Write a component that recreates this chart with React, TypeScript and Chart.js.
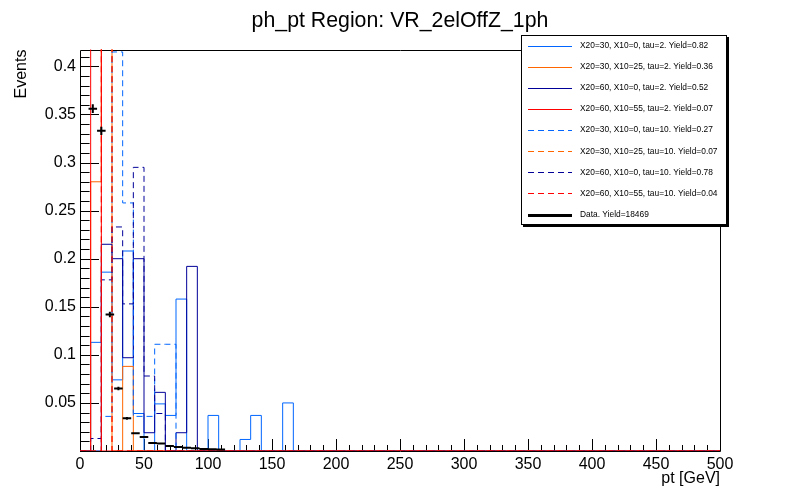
"use client"

import { useEffect, useRef } from "react"
import { Chart, registerables } from "chart.js"
import type { Plugin } from "chart.js"

Chart.register(...registerables)

const PT_MIN = 0
const PT_MAX = 500
const MC_BINS = 60 // signal samples, 8.33 GeV bins
const DATA_BINS = 75 // data, 6.67 GeV bins
const Y_MAX = 0.4175
const Y_LABELS = [0.05, 0.1, 0.15, 0.2, 0.25, 0.3, 0.35, 0.4]

// bin contents from the first bin on, every bin after the list is empty
const x30_0_tau2 = [0, 0.113, 0.186, 0.074, 0.208, 0.039, 0, 0.049, 0.037, 0.158, 0, 0, 0.037, 0, 0, 0.012, 0.037, 0, 0, 0.05]
const x30_25_tau2 = [0, 0.28, 0.632, 0, 0.088]
const x60_0_tau2 = [0, 0, 0.215, 0.2, 0.097, 0.2, 0.019, 0.061, 0, 0.019, 0.192]
const x60_55_tau2 = [0, 1.0]
const x30_0_tau10 = [0, 0, 0.036, 0.415, 0.258, 0.036, 0.036, 0.111, 0.111]
const x30_25_tau10 = [0, 0, 1.0]
const x60_0_tau10 = [0, 0.013, 0.178, 0.233, 0.153, 0.295, 0.078, 0.039]
const x60_55_tau10 = [0, 0, 1.0]

const dataValues = [0, 0.356, 0.333, 0.142, 0.065, 0.034, 0.0184, 0.0146, 0.0083, 0.0077, 0.0052, 0.0042, 0.0035, 0.0029, 0.0022, 0.0019, 0.0015]
const dataErrors = [0, 0.0045, 0.0043, 0.0028, 0.0019, 0.0014, 0.001, 0.0009, 0.0007, 0.0006, 0.0005, 0.0005, 0.0004, 0.0004, 0.0003, 0.0003, 0.0003]

const sampleLabels = [
  "X20=30, X10=0, tau=2. Yield=0.82",
  "X20=30, X10=25, tau=2. Yield=0.36",
  "X20=60, X10=0, tau=2. Yield=0.52",
  "X20=60, X10=55, tau=2. Yield=0.07",
  "X20=30, X10=0, tau=10. Yield=0.27",
  "X20=30, X10=25, tau=10. Yield=0.07",
  "X20=60, X10=0, tau=10. Yield=0.78",
  "X20=60, X10=55, tau=10. Yield=0.04",
]
const dataLabel = "Data. Yield=18469"
const sampleValues = [x30_0_tau2, x30_25_tau2, x60_0_tau2, x60_55_tau2, x30_0_tau10, x30_25_tau10, x60_0_tau10, x60_55_tau10]
const sampleColors = ["#0066ff", "#ff6600", "#000099", "#ff0000", "#0066ff", "#ff6600", "#000099", "#ff0000"]

const FONT = "'Liberation Sans', Arial, sans-serif"
const DASH = [6, 4]

function histPoints(values: number[]) {
  const w = (PT_MAX - PT_MIN) / MC_BINS
  const pts = [{ x: PT_MIN, y: 0 }]
  for (let i = 0; i < MC_BINS; i++) {
    pts.push({ x: PT_MIN + i * w, y: values[i] ?? 0 })
  }
  pts.push({ x: PT_MAX, y: 0 })
  return pts
}

// ROOT style frame and inward ticks, under the histograms
const rootFrame: Plugin = {
  id: "rootFrame",
  beforeDatasetsDraw(chart) {
    const { ctx, chartArea: a } = chart
    const xs = chart.scales.x
    const ys = chart.scales.y
    ctx.save()
    ctx.strokeStyle = "#000"
    ctx.lineWidth = 1
    ctx.beginPath()
    ctx.rect(Math.round(a.left) + 0.5, Math.round(a.top) + 0.5, Math.round(a.right - a.left), Math.round(a.bottom - a.top))
    for (let v = PT_MIN; v <= PT_MAX; v += 10) {
      const px = Math.round(xs.getPixelForValue(v)) + 0.5
      const len = v % 50 === 0 ? 12 : 6
      ctx.moveTo(px, a.bottom)
      ctx.lineTo(px, a.bottom - len)
    }
    for (let i = 0; i * 0.01 <= Y_MAX; i++) {
      const py = Math.round(ys.getPixelForValue(i * 0.01)) + 0.5
      const len = i % 5 === 0 ? 19 : 9.6
      ctx.moveTo(a.left, py)
      ctx.lineTo(a.left + len, py)
    }
    ctx.stroke()
    ctx.restore()
  },
  afterDatasetsDraw(chart) {
    // data points with error bars
    const { ctx } = chart
    const xs = chart.scales.x
    const ys = chart.scales.y
    const w = (PT_MAX - PT_MIN) / DATA_BINS
    ctx.save()
    ctx.strokeStyle = "#000"
    ctx.lineWidth = 2
    ctx.beginPath()
    dataValues.forEach((v, k) => {
      if (v <= 0) return
      const x0 = xs.getPixelForValue(PT_MIN + k * w)
      const x1 = xs.getPixelForValue(PT_MIN + (k + 1) * w)
      const py = ys.getPixelForValue(v)
      const pc = (x0 + x1) / 2
      ctx.moveTo(x0, py)
      ctx.lineTo(x1, py)
      ctx.moveTo(pc, ys.getPixelForValue(v - dataErrors[k]))
      ctx.lineTo(pc, ys.getPixelForValue(v + dataErrors[k]))
    })
    ctx.stroke()
    ctx.restore()
  },
  afterDraw(chart) {
    // TLegend box
    const { ctx } = chart
    const left = 521, top = 35, right = 727, bottom = 225
    ctx.save()
    ctx.fillStyle = "#000"
    ctx.fillRect(left + 2, top + 2, right - left, bottom - top)
    ctx.fillStyle = "#fff"
    ctx.fillRect(left, top, right - left, bottom - top)
    ctx.strokeStyle = "#000"
    ctx.lineWidth = 1
    ctx.strokeRect(left + 0.5, top + 0.5, right - left - 1, bottom - top - 1)
    ctx.font = `8.4px ${FONT}`
    ctx.textBaseline = "middle"
    ctx.textAlign = "left"
    const rows = sampleLabels.map((label, i) => ({
      label,
      color: sampleColors[i],
      dash: i >= 4 ? DASH : [],
      width: 1,
    }))
    rows.push({ label: dataLabel, color: "#000", dash: [], width: 3 })
    rows.forEach((r, i) => {
      const cy = 45.7 + i * 21.1
      ctx.strokeStyle = r.color
      ctx.lineWidth = r.width
      ctx.setLineDash(r.dash)
      ctx.beginPath()
      ctx.moveTo(528, Math.round(cy) + 0.5)
      ctx.lineTo(572, Math.round(cy) + 0.5)
      ctx.stroke()
      ctx.setLineDash([])
      ctx.fillStyle = "#000"
      ctx.fillText(r.label, 580, cy)
    })
    ctx.restore()
  },
}

export default function App() {
  const chartRef = useRef<HTMLCanvasElement>(null)
  const chartInstance = useRef<Chart | null>(null)

  useEffect(() => {
    if (!chartRef.current) return
    if (chartInstance.current) {
      chartInstance.current.destroy()
    }
    const ctx = chartRef.current.getContext("2d")
    if (!ctx) return

    Chart.defaults.font.family = FONT
    Chart.defaults.color = "#000"

    const datasets = sampleLabels.map((label, i) => ({
      label,
      data: histPoints(sampleValues[i]),
      borderColor: sampleColors[i],
      borderWidth: 1,
      borderDash: i >= 4 ? DASH : [],
      pointRadius: 0,
      fill: false,
      stepped: true as const,
      tension: 0,
      // later samples on top, red tau=2 outline last
      order: i === 3 ? -100 : -i,
    }))

    chartInstance.current = new Chart(ctx, {
      type: "line",
      data: { datasets },
      plugins: [rootFrame],
      options: {
        responsive: true,
        maintainAspectRatio: false,
        animation: false,
        events: [],
        layout: { padding: 0 },
        scales: {
          x: {
            type: "linear",
            min: PT_MIN,
            max: PT_MAX,
            grid: { display: false, drawTicks: false },
            border: { display: false },
            ticks: {
              stepSize: 50,
              maxRotation: 0,
              autoSkip: false,
              padding: 4,
              font: { size: 16 },
              color: "#000",
            },
            title: {
              display: true,
              text: "pt [GeV]",
              align: "end",
              font: { size: 16 },
              color: "#000",
              padding: { top: 0, bottom: 12 },
            },
            afterFit: (scale) => {
              scale.height = 49
            },
          },
          y: {
            type: "linear",
            min: 0,
            max: Y_MAX,
            grid: { display: false, drawTicks: false },
            border: { display: false },
            afterBuildTicks: (scale) => {
              scale.ticks = Y_LABELS.map((value) => ({ value }))
            },
            ticks: {
              padding: 4,
              font: { size: 16 },
              color: "#000",
              callback: (v) => String(+Number(v).toFixed(2)),
            },
            title: {
              display: true,
              text: "Events",
              align: "end",
              font: { size: 16 },
              color: "#000",
              padding: { top: 12, bottom: 0 },
            },
            afterFit: (scale) => {
              scale.width = 80
            },
          },
          // empty right axis, only keeps the frame 80px from the right edge
          yRight: {
            type: "linear",
            position: "right",
            display: true,
            grid: { display: false, drawTicks: false },
            border: { display: false },
            ticks: { display: false },
            afterFit: (scale) => {
              scale.width = 80
            },
          },
        },
        plugins: {
          legend: { display: false },
          tooltip: { enabled: false },
          title: {
            display: true,
            text: "ph_pt Region: VR_2elOffZ_1ph",
            font: { size: 21.3, weight: "normal" },
            color: "#000",
            padding: { top: 8, bottom: 16 },
          },
        },
      },
    })

    return () => {
      if (chartInstance.current) {
        chartInstance.current.destroy()
        chartInstance.current = null
      }
    }
  }, [])

  return (
    <div style={{ position: "fixed", left: 0, top: 0, width: 800, height: 500, background: "#fff" }}>
      <canvas ref={chartRef} />
    </div>
  )
}
